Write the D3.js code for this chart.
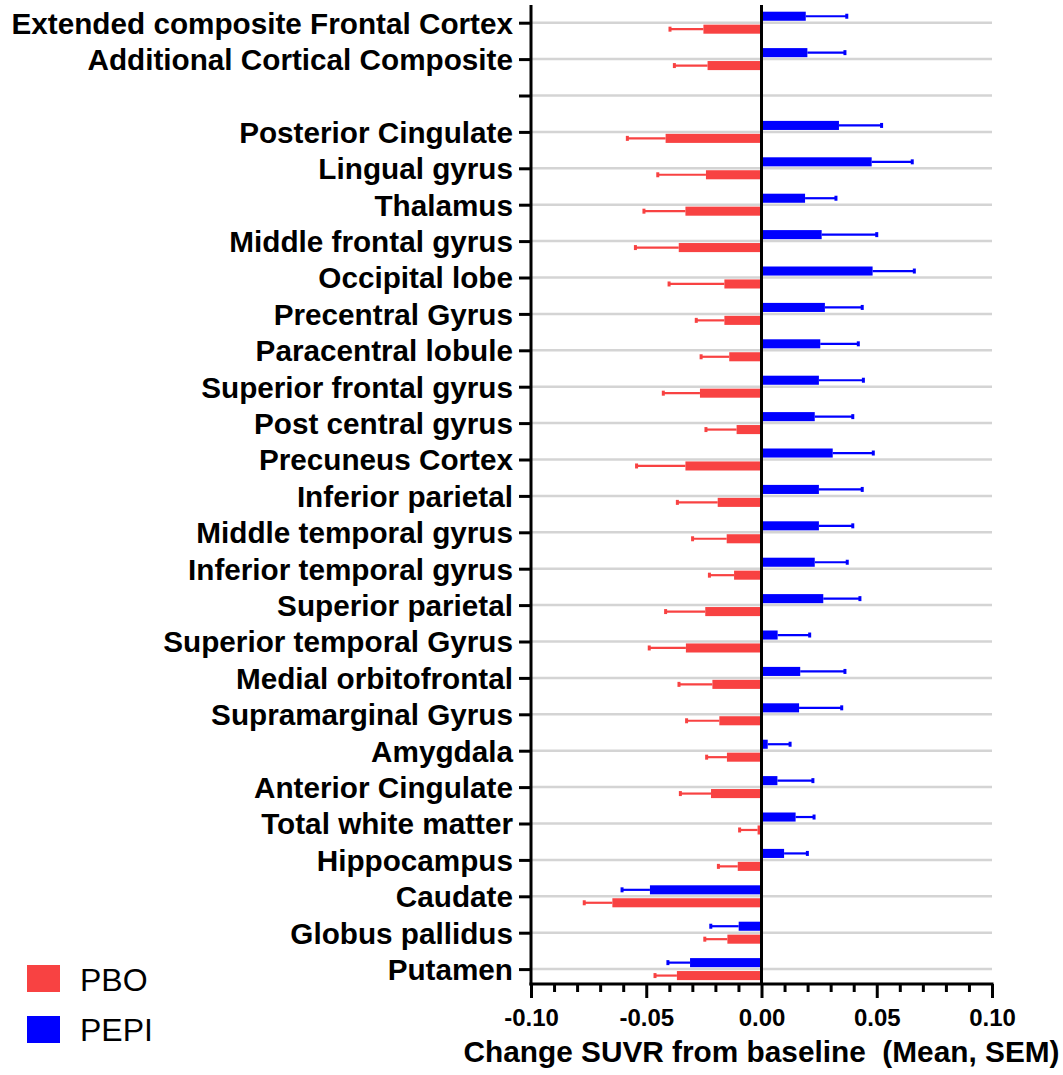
<!DOCTYPE html>
<html>
<head>
<meta charset="utf-8">
<script src="https://cdn.jsdelivr.net/npm/d3@7"></script>
<style>
  html, body { margin: 0; padding: 0; background: #fff; }
  svg { display: block; }
  text { font-family: "Liberation Sans", Arial, sans-serif; }
</style>
</head>
<body>
<script>
// ---- Data ----
const categories = [
  "Extended composite Frontal Cortex", "Additional Cortical Composite", "",
  "Posterior Cingulate", "Lingual gyrus", "Thalamus", "Middle frontal gyrus",
  "Occipital lobe", "Precentral Gyrus", "Paracentral lobule", "Superior frontal gyrus",
  "Post central gyrus", "Precuneus Cortex", "Inferior parietal", "Middle temporal gyrus",
  "Inferior temporal gyrus", "Superior parietal", "Superior temporal Gyrus",
  "Medial orbitofrontal", "Supramarginal Gyrus", "Amygdala", "Anterior Cingulate",
  "Total white matter", "Hippocampus", "Caudate", "Globus pallidus", "Putamen"
];
const seriesNames = ["PEPI", "PBO"];
const seriesColors = ["#0000ff", "#f84242"];
const pepiMean = [0.0192, 0.0199, null, 0.0336, 0.0478, 0.0189, 0.0261, 0.0482, 0.0275, 0.0255,
  0.0249, 0.0231, 0.0309, 0.0249, 0.0249, 0.0231, 0.0268, 0.0070, 0.0168, 0.0163, 0.0027,
  0.0069, 0.0148, 0.0098, -0.0484, -0.0099, -0.0310];
const pepiSem = [0.0178, 0.0163, null, 0.0185, 0.0176, 0.0134, 0.0239, 0.0181, 0.0162, 0.0165,
  0.0193, 0.0165, 0.0176, 0.0188, 0.0147, 0.0141, 0.0159, 0.0139, 0.0194, 0.0185, 0.0097,
  0.0154, 0.0080, 0.0101, 0.0121, 0.0121, 0.0096];
const pboMean = [-0.0252, -0.0234, null, -0.0416, -0.0241, -0.0330, -0.0359, -0.0161, -0.0161,
  -0.0140, -0.0267, -0.0108, -0.0330, -0.0190, -0.0151, -0.0119, -0.0244, -0.0328, -0.0213,
  -0.0183, -0.0150, -0.0219, -0.0017, -0.0103, -0.0647, -0.0148, -0.0367];
const pboSem = [0.0145, 0.0144, null, 0.0166, 0.0209, 0.0180, 0.0188, 0.0240, 0.0122, 0.0122,
  0.0159, 0.0133, 0.0212, 0.0175, 0.0148, 0.0107, 0.0172, 0.0159, 0.0145, 0.0142, 0.0088,
  0.0133, 0.0078, 0.0084, 0.0122, 0.0098, 0.0095];
const xMajorTicks = [-0.10, -0.05, 0.00, 0.05, 0.10];
const xMinorTicks = [-0.09, -0.08, -0.07, -0.06, -0.04, -0.03, -0.02, -0.01,
  0.01, 0.02, 0.03, 0.04, 0.06, 0.07, 0.08, 0.09];
const legendOrder = ["PBO", "PEPI"];
const xTitle = "Change SUVR from baseline  (Mean, SEM)";

// ---- Layout ----
const W = 1063, H = 1075;
const plotL = 531, plotR = 992, plotT = 5, plotB = 984;
const firstRow = 22.7, lastRow = 969.1;

const svg = d3.select("body").append("svg").attr("width", W).attr("height", H);
svg.append("rect").attr("width", W).attr("height", H).attr("fill", "#fff");

const keys = categories.map((c, i) => i);
const x = d3.scaleLinear().domain([-0.10, 0.10]).range([plotL, plotR]);
const y = d3.scalePoint().domain(keys).range([firstRow, lastRow]);
const sub = d3.scaleBand().domain(seriesNames).range([-11, 11]).paddingInner(0.3);
const color = d3.scaleOrdinal().domain(seriesNames).range(seriesColors);

const rows = [];
keys.forEach(i => {
  if (pepiMean[i] !== null) rows.push({ i, s: "PEPI", m: pepiMean[i], e: pepiSem[i] });
  if (pboMean[i] !== null) rows.push({ i, s: "PBO", m: pboMean[i], e: pboSem[i] });
});

// gridlines
svg.append("g").selectAll("line").data(keys).join("line")
  .attr("x1", plotL).attr("x2", plotR)
  .attr("y1", d => y(d)).attr("y2", d => y(d))
  .attr("stroke", "#d4d4d4").attr("stroke-width", 2.5);

// bars
svg.append("g").selectAll("rect").data(rows).join("rect")
  .attr("x", d => Math.min(x(0), x(d.m)))
  .attr("width", d => Math.abs(x(d.m) - x(0)))
  .attr("y", d => y(d.i) + sub(d.s))
  .attr("height", sub.bandwidth())
  .attr("fill", d => color(d.s));

// error bars (outward only)
const eg = svg.append("g");
rows.forEach(d => {
  const end = d.m + Math.sign(d.m) * d.e;
  const cy = y(d.i) + sub(d.s) + sub.bandwidth() / 2;
  eg.append("line").attr("x1", x(d.m)).attr("x2", x(end)).attr("y1", cy).attr("y2", cy)
    .attr("stroke", color(d.s)).attr("stroke-width", 2.2);
  eg.append("line").attr("x1", x(end)).attr("x2", x(end)).attr("y1", cy - 2.5).attr("y2", cy + 2.5)
    .attr("stroke", color(d.s)).attr("stroke-width", 3);
});

// zero line
svg.append("line").attr("x1", x(0)).attr("x2", x(0)).attr("y1", plotT).attr("y2", plotB)
  .attr("stroke", "#000").attr("stroke-width", 3);

// y axis
const yAxis = d3.axisLeft(y).tickSize(12).tickPadding(6).tickFormat(i => categories[i]);
const yg = svg.append("g").attr("transform", `translate(${plotL},0)`).call(yAxis);
yg.select(".domain").remove();
yg.selectAll(".tick line").attr("stroke", "#000").attr("stroke-width", 3);
yg.selectAll(".tick text").attr("fill", "#000").style("font-size", "29.7px")
  .style("font-weight", "bold").attr("dy", "0.35em");
svg.append("line").attr("x1", plotL).attr("x2", plotL).attr("y1", plotT).attr("y2", plotB + 1.5)
  .attr("stroke", "#000").attr("stroke-width", 3);

// x axis
const xAxis = d3.axisBottom(x).tickValues(xMajorTicks).tickSize(14).tickPadding(11)
  .tickFormat(d => d.toFixed(2));
const xg = svg.append("g").attr("transform", `translate(0,${plotB})`).call(xAxis);
xg.select(".domain").attr("stroke", "#000").attr("stroke-width", 3)
  .attr("d", `M${plotL - 1.5},0H${plotR + 1.5}`);
xg.selectAll(".tick line").attr("stroke", "#000").attr("stroke-width", 3);
xg.selectAll(".tick text").attr("fill", "#000").style("font-size", "24px").style("font-weight", "bold");
const xMinor = d3.axisBottom(x).tickValues(xMinorTicks).tickSize(8).tickFormat("");
const xmg = svg.append("g").attr("transform", `translate(0,${plotB})`).call(xMinor);
xmg.select(".domain").remove();
xmg.selectAll(".tick line").attr("stroke", "#000").attr("stroke-width", 3);

// x title
svg.append("text").attr("x", (plotL + plotR) / 2).attr("y", 1062)
  .attr("text-anchor", "middle").style("font-size", "29.8px").style("font-weight", "bold")
  .style("white-space", "pre").attr("xml:space", "preserve")
  .text(xTitle);

// legend
const lg = svg.append("g");
legendOrder.forEach((name, k) => {
  lg.append("rect").attr("x", 27).attr("y", 965 + k * 51).attr("width", 33).attr("height", 27)
    .attr("fill", color(name));
  lg.append("text").attr("x", 80).attr("y", 991 + k * 50).style("font-size", "32px")
    .attr("fill", "#000").text(name);
});
</script>
</body>
</html>
